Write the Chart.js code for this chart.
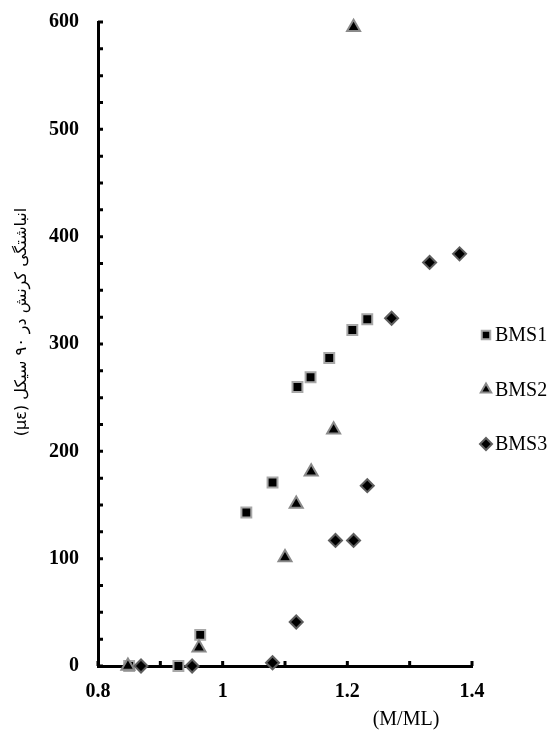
<!DOCTYPE html>
<html>
<head>
<meta charset="utf-8">
<script src="https://cdn.jsdelivr.net/npm/chart.js@4/dist/chart.umd.min.js"></script>
<style>
  html, body { margin: 0; padding: 0; background: #fff; }
  #wrap { width: 552px; height: 731px; position: relative; }
</style>
</head>
<body>
<div id="wrap"><canvas id="c" width="552" height="731"></canvas></div>
<script>
// Series: strain accumulation vs. M/ML
const seriesNames = ['BMS1', 'BMS2', 'BMS3'];
const bms1X = [0.850, 0.929, 0.964, 1.038, 1.080, 1.120, 1.141, 1.171, 1.208, 1.232];
const bms1Y = [0, 0, 29, 143, 171, 260, 269, 287, 313, 323];
const bms2X = [0.848, 0.962, 1.100, 1.118, 1.142, 1.178, 1.210];
const bms2Y = [0, 17, 101, 151, 181, 220, 595];
const bms3X = [0.869, 0.951, 1.080, 1.118, 1.181, 1.210, 1.232, 1.271, 1.332, 1.380];
const bms3Y = [0, 0, 3, 41, 117, 117, 168, 324, 376, 384];

// Axis ranges and labelled ticks
const xTickLabels = ['0.8', '1', '1.2', '1.4'];
const yTickLabels = ['0', '100', '200', '300', '400', '500', '600'];
const xTitle = '(M/ML)';
const yTitle = 'انباشتگی کرنش در ۹۰ سیکل (με)';

const toPoints = (xs, ys) => xs.map((v, i) => ({ x: v, y: ys[i] }));

const markerStyles = [
  { pointStyle: 'rect', radius: 7, border: '#a8a8a8' },
  { pointStyle: 'triangle', radius: 7.5, border: '#8a8a8a' },
  { pointStyle: 'rectRot', radius: 6.5, border: '#5e5e5e' }
];

const serif = "'Liberation Serif', 'Times New Roman', serif";

function drawMarker(ctx, style, x, y, r, border) {
  ctx.save();
  ctx.fillStyle = '#000';
  ctx.strokeStyle = border;
  ctx.lineWidth = 2;
  ctx.beginPath();
  if (style === 'rect') {
    const s = r * Math.SQRT1_2;
    ctx.rect(x - s, y - s, 2 * s, 2 * s);
  } else if (style === 'triangle') {
    ctx.moveTo(x, y - r);
    ctx.lineTo(x + r * 0.866, y + r * 0.5);
    ctx.lineTo(x - r * 0.866, y + r * 0.5);
    ctx.closePath();
  } else {
    ctx.moveTo(x, y - r);
    ctx.lineTo(x + r, y);
    ctx.lineTo(x, y + r);
    ctx.lineTo(x - r, y);
    ctx.closePath();
  }
  ctx.fill();
  ctx.stroke();
  ctx.restore();
}

const decor = {
  id: 'decor',
  beforeDatasetsDraw(chart) {
    const { ctx, scales: { x, y }, chartArea: a } = chart;
    ctx.save();
    ctx.strokeStyle = '#000';
    ctx.lineWidth = 3;
    ctx.beginPath();
    x.ticks.forEach(t => {
      const px = x.getPixelForValue(t.value);
      ctx.moveTo(px, a.bottom);
      ctx.lineTo(px, a.bottom - 5);
    });
    y.ticks.forEach(t => {
      const py = y.getPixelForValue(t.value);
      ctx.moveTo(a.left, py);
      ctx.lineTo(a.left + 5, py);
    });
    ctx.stroke();
    ctx.restore();
  },
  afterDraw(chart) {
    const { ctx } = chart;
    ctx.save();
    // x-axis title
    ctx.fillStyle = '#000';
    ctx.font = '20px ' + serif;
    ctx.textAlign = 'center';
    ctx.textBaseline = 'middle';
    ctx.fillText(xTitle, 406, 720);
    // y-axis title (right-to-left text, rotated)
    ctx.save();
    ctx.translate(22, 322);
    ctx.rotate(-Math.PI / 2);
    ctx.direction = 'rtl';
    ctx.font = "16px 'DejaVu Sans', sans-serif";
    ctx.textAlign = 'center';
    ctx.fillText(yTitle, 0, 0);
    ctx.restore();
    // legend
    ctx.font = '20px ' + serif;
    ctx.textAlign = 'left';
    chart.data.datasets.forEach((ds, i) => {
      const ly = 335 + i * 54.5;
      const m = markerStyles[i];
      drawMarker(ctx, m.pointStyle, 486, ly, 6, m.border);
      ctx.fillStyle = '#000';
      ctx.fillText(ds.label, 495, ly + 1);
    });
    ctx.restore();
  }
};

const seriesData = [toPoints(bms1X, bms1Y), toPoints(bms2X, bms2Y), toPoints(bms3X, bms3Y)];
const drawOrder = [2, 1, 0];

new Chart(document.getElementById('c'), {
  type: 'scatter',
  data: {
    datasets: seriesNames.map((name, i) => ({
      label: name,
      data: seriesData[i],
      pointStyle: markerStyles[i].pointStyle,
      pointRadius: markerStyles[i].radius,
      pointHoverRadius: markerStyles[i].radius,
      backgroundColor: '#000',
      borderColor: markerStyles[i].border,
      borderWidth: 2,
      order: drawOrder[i],
      clip: false
    }))
  },
  options: {
    responsive: false,
    animation: false,
    devicePixelRatio: 1,
    layout: { padding: { top: 22, right: 80, bottom: 0, left: 0 } },
    plugins: { legend: { display: false }, tooltip: { enabled: false } },
    scales: {
      x: {
        type: 'linear',
        min: 0.8, max: 1.4,
        afterFit(s) { s.height = 65; s.paddingLeft = 0; s.paddingRight = 0; },
        grid: { display: true, drawOnChartArea: false, drawTicks: false },
        border: { display: true, color: '#000', width: 3 },
        ticks: {
          stepSize: 0.1,
          padding: 14,
          color: '#000',
          font: { family: serif, size: 20, weight: 'bold' },
          maxRotation: 0,
          autoSkip: false,
          callback(v) {
            const k = Math.round(v * 10);
            return k % 2 === 0 ? xTickLabels[(k - 8) / 2] : '';
          }
        }
      },
      y: {
        type: 'linear',
        min: 0, max: 600,
        afterFit(s) { s.width = 98; s.paddingTop = 0; s.paddingBottom = 0; },
        grid: { display: true, drawOnChartArea: false, drawTicks: false },
        border: { display: true, color: '#000', width: 3 },
        ticks: {
          stepSize: 25,
          padding: 19,
          color: '#000',
          font: { family: serif, size: 20, weight: 'bold' },
          autoSkip: false,
          callback(v) {
            return v % 100 === 0 ? yTickLabels[v / 100] : '';
          }
        }
      }
    }
  },
  plugins: [decor]
});
</script>
</body>
</html>
